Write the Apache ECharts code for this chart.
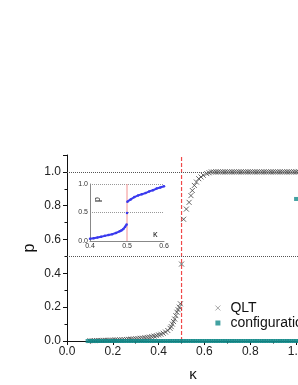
<!DOCTYPE html>
<html><head><meta charset="utf-8">
<script src="https://cdn.jsdelivr.net/npm/echarts@6/dist/echarts.min.js"></script>
<style>html,body{margin:0;padding:0;background:#fff}#c{width:298px;height:385px}</style>
</head><body><div id="c"></div>
<script>
// Main chart: QLT crosses
const qltX = [0.10,0.11,0.12,0.13,0.14,0.15,0.16,0.17,0.18,0.19,0.20,0.21,0.22,0.23,0.24,0.25,0.26,0.27,0.28,0.29,0.30,0.31,0.32,0.33,0.34,0.35,0.36,0.37,0.38,0.39,0.40,0.41,0.42,0.43,0.44,0.45,0.455,0.46,0.465,0.47,0.475,0.48,0.485,0.49,0.495,0.50,0.509,0.521,0.533,0.541,0.547,0.556,0.565,0.575,0.585,0.595,0.61,0.62,0.63,0.64,0.65,0.66,0.67,0.68,0.69,0.70,0.71,0.72,0.73,0.74,0.75,0.76,0.77,0.78,0.79,0.80,0.81,0.82,0.83,0.84,0.85,0.86,0.87,0.88,0.89,0.90,0.91,0.92,0.93,0.94,0.95,0.96,0.97,0.98,0.99,1.00,1.01,1.02];
const qltP = [0.002,0.002,0.002,0.003,0.003,0.003,0.004,0.004,0.004,0.005,0.005,0.006,0.006,0.007,0.007,0.008,0.009,0.010,0.011,0.012,0.013,0.014,0.016,0.017,0.019,0.021,0.023,0.026,0.029,0.032,0.036,0.040,0.046,0.053,0.062,0.075,0.085,0.100,0.115,0.130,0.150,0.170,0.185,0.200,0.220,0.455,0.720,0.780,0.820,0.860,0.890,0.920,0.940,0.960,0.970,0.980,0.990,0.995,1.0,1.0,1.0,1.0,1.0,1.0,1.0,1.0,1.0,1.0,1.0,1.0,1.0,1.0,1.0,1.0,1.0,1.0,1.0,1.0,1.0,1.0,1.0,1.0,1.0,1.0,1.0,1.0,1.0,1.0,1.0,1.0,1.0,1.0,1.0,1.0,1.0,1.0,1.0,1.0];
// Main chart: configuration squares
const confX = [0.09,0.10,0.11,0.12,0.13,0.14,0.15,0.16,0.17,0.18,0.19,0.20,0.21,0.22,0.23,0.24,0.25,0.26,0.27,0.28,0.29,0.30,0.31,0.32,0.33,0.34,0.35,0.36,0.37,0.38,0.39,0.40,0.41,0.42,0.43,0.44,0.45,0.46,0.47,0.48,0.49,0.50,0.51,0.52,0.53,0.54,0.55,0.56,0.57,0.58,0.59,0.60,0.61,0.62,0.63,0.64,0.65,0.66,0.67,0.68,0.69,0.70,0.71,0.72,0.73,0.74,0.75,0.76,0.77,0.78,0.79,0.80,0.81,0.82,0.83,0.84,0.85,0.86,0.87,0.88,0.89,0.90,0.91,0.92,0.93,0.94,0.95,0.96,0.97,0.98,0.99,1.00,1.01,1.00];
const confP = [0,0,0,0,0,0,0,0,0,0,0,0,0,0,0,0,0,0,0,0,0,0,0,0,0,0,0,0,0,0,0,0,0,0,0,0,0,0,0,0,0,0,0,0,0,0,0,0,0,0,0,0,0,0,0,0,0,0,0,0,0,0,0,0,0,0,0,0,0,0,0,0,0,0,0,0,0,0,0,0,0,0,0,0,0,0,0,0,0,0,0,0,0,0.84];
// Inset: blue curve (null = gap at the jump)
const insetX = [0.40,0.41,0.42,0.43,0.44,0.45,0.46,0.47,0.48,0.485,0.49,0.495,0.499,0.4995,0.50,0.5005,0.501,0.51,0.52,0.53,0.54,0.55,0.56,0.57,0.58,0.59,0.60];
const insetP = [0.04,0.05,0.06,0.075,0.09,0.105,0.12,0.14,0.17,0.185,0.21,0.25,0.29,null,0.49,null,0.69,0.73,0.77,0.80,0.82,0.84,0.87,0.89,0.92,0.94,0.96];
// Reference lines
const refLinesP = [1.0, 0.5];
const criticalK = 0.5;
const critMainP = [0, 1.1];
const critInsetP = [0, 1];

const zip = (a,b)=>a.map((v,i)=>[v,b[i]]);
const cross = 'path://M0,0L10,10M10,0L0,10';
const fmt1 = v => v.toFixed(1);
const ff = 'Liberation Sans, Arial, sans-serif';

const chart = echarts.init(document.getElementById('c'), null, {renderer:'canvas'});
chart.setOption({
  animation:false,
  textStyle:{fontFamily:ff},
  grid:[
    {left:67, top:155, width:252, height:186, containLabel:false, outerBoundsMode:'none'},
    {left:90, top:184, width:74, height:57, containLabel:false, outerBoundsMode:'none'}
  ],
  legend:{
    orient:'vertical', left:210, top:296, itemWidth:5, itemHeight:5, itemGap:1,
    textStyle:{fontSize:14, color:'#111', padding:[0,0,0,5]},
    data:[{name:'QLT', icon:cross, itemStyle:{color:'#777', borderColor:'#777', borderWidth:0.8}},{name:'configuration', icon:'rect'}]
  },
  xAxis:[
    {type:'value', gridIndex:0, min:0, max:1.1, interval:0.2,
     name:'κ', nameLocation:'middle', nameGap:26, nameMoveOverlap:false, nameTextStyle:{fontSize:15, color:'#111'},
     axisLine:{show:true, onZero:false, lineStyle:{color:'#111', width:1}},
     axisTick:{show:true, length:4, lineStyle:{color:'#111'}},
     minorTick:{show:true, splitNumber:2, length:2.5, lineStyle:{color:'#111'}},
     axisLabel:{formatter:fmt1, fontSize:12, color:'#222', margin:5, showMaxLabel:false, hideOverlap:false},
     splitLine:{show:false}},
    {type:'value', gridIndex:1, min:0.4, max:0.6, interval:0.1,
     axisLine:{show:true, onZero:false, lineStyle:{color:'#888', width:1}},
     axisTick:{show:false},
     axisLabel:{formatter:fmt1, fontSize:7, color:'#333', margin:2},
     splitLine:{show:false}}
  ],
  yAxis:[
    {type:'value', gridIndex:0, min:0, max:1.1, interval:0.2,
     name:'p', nameLocation:'middle', nameGap:29, nameMoveOverlap:false, nameTextStyle:{fontSize:16, color:'#111'},
     axisLine:{show:true, onZero:false, lineStyle:{color:'#111', width:1}},
     axisTick:{show:true, length:4, lineStyle:{color:'#111'}},
     minorTick:{show:true, splitNumber:2, length:2.5, lineStyle:{color:'#111'}},
     axisLabel:{formatter:fmt1, fontSize:12, color:'#222', margin:6, showMaxLabel:false},
     splitLine:{show:false}},
    {type:'value', gridIndex:1, min:0, max:1, interval:0.5,
     axisLine:{show:true, onZero:false, lineStyle:{color:'#888', width:1}},
     axisTick:{show:false},
     axisLabel:{formatter:fmt1, fontSize:7, color:'#333', margin:2},
     splitLine:{show:true, lineStyle:{color:'#999', type:'dotted', width:1}}}
  ],
  graphic:[
    {type:'text', x:93, y:202, rotation:Math.PI/2, style:{text:'p', font:'9px '+ff, fill:'#222'}},
    {type:'text', x:153, y:230, style:{text:'κ', font:'9px '+ff, fill:'#222'}}
  ],
  series:[
    {name:'crit', type:'line', xAxisIndex:0, yAxisIndex:0, symbol:'none', silent:true, z:1,
     lineStyle:{color:'#f04848', type:[4,2], width:1.2},
     data:critMainP.map(v=>[criticalK, v])},
    {name:'QLT', type:'scatter', xAxisIndex:0, yAxisIndex:0, symbol:cross, symbolSize:5,
     itemStyle:{color:'#444', borderColor:'#444', borderWidth:1},
     data:zip(qltX,qltP),
     markLine:{silent:true, symbol:'none', label:{show:false},
       lineStyle:{color:'#555', type:'dotted', width:1},
       data:refLinesP.map(v=>({yAxis:v}))}},
    {name:'configuration', type:'scatter', xAxisIndex:0, yAxisIndex:0, symbol:'rect', symbolSize:4,
     itemStyle:{color:'#138a8a'}, data:zip(confX,confP)},
    {name:'critInset', type:'line', xAxisIndex:1, yAxisIndex:1, symbol:'none', silent:true,
     lineStyle:{color:'#f29090', type:'solid', width:1},
     data:critInsetP.map(v=>[criticalK, v])},
    {name:'inset', type:'line', xAxisIndex:1, yAxisIndex:1, symbol:'circle', symbolSize:2.5, showSymbol:true,
     connectNulls:false, lineStyle:{color:'#3a3aee', width:2}, itemStyle:{color:'#3a3aee'},
     data:zip(insetX,insetP)}
  ]
});
</script></body></html>
